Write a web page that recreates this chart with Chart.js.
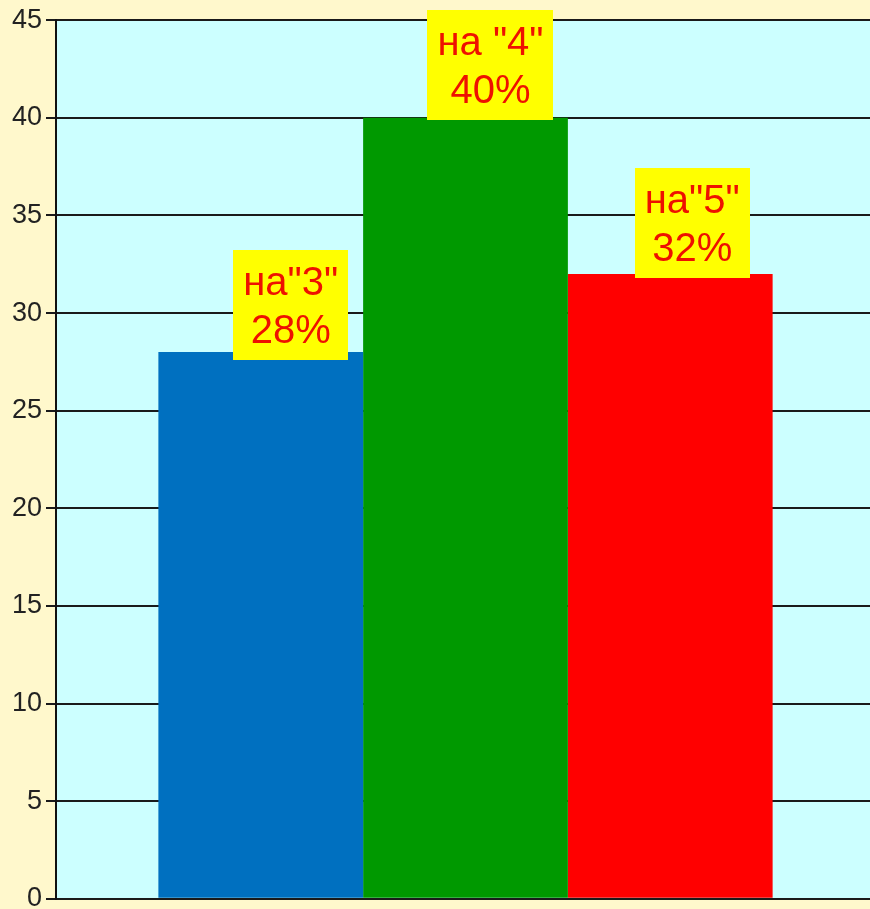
<!DOCTYPE html>
<html>
<head>
<meta charset="utf-8">
<script src="https://cdn.jsdelivr.net/npm/chart.js@4/dist/chart.umd.min.js"></script>
<style>
  html, body { margin: 0; padding: 0; overflow: hidden; background: #FFF8CC; }
  #wrap { position: absolute; left: 0; top: 0; width: 875px; height: 919px; }
</style>
</head>
<body>
<div id="wrap"><canvas id="c" width="875" height="919"></canvas></div>
<script>
// Grades: share of pupils per mark
const grades = ['на"3"', 'на "4"', 'на"5"'];
const percents = [28, 40, 32];
const barColors = ['#0070C0', '#009900', '#FF0000'];
const yTicks = [0, 5, 10, 15, 20, 25, 30, 35, 40, 45];

const FONT = "Arial, 'Liberation Sans', sans-serif";

// light cyan plot area
const plotBackground = {
  id: 'plotBackground',
  beforeDraw(chart) {
    const { ctx, chartArea: a } = chart;
    ctx.save();
    ctx.fillStyle = '#CCFFFF';
    ctx.fillRect(a.left, a.top, a.right - a.left, a.bottom - a.top);
    ctx.restore();
  }
};

// yellow value boxes sitting on top of each bar
const valueBoxes = {
  id: 'valueBoxes',
  afterDatasetsDraw(chart, args, opts) {
    const ctx = chart.ctx;
    ctx.save();
    ctx.font = opts.font;
    ctx.textAlign = 'center';
    ctx.textBaseline = 'alphabetic';
    chart.data.datasets.forEach((ds, i) => {
      const el = chart.getDatasetMeta(i).data[0];
      const lines = [grades[i], ds.data[0] + '%'];
      const w = Math.max(...lines.map(t => ctx.measureText(t).width)) + opts.padX * 2;
      const cx = el.x + opts.dx[i];
      const bottom = el.y + opts.dy[i];
      const top = bottom - opts.boxHeight;
      ctx.fillStyle = opts.fill;
      ctx.fillRect(Math.round(cx - w / 2), Math.round(top), Math.round(w), opts.boxHeight);
      ctx.fillStyle = opts.color;
      lines.forEach((t, k) => {
        ctx.fillText(t, cx, top + opts.firstBaseline + k * opts.lineHeight);
      });
    });
    ctx.restore();
  }
};

new Chart(document.getElementById('c'), {
  type: 'bar',
  data: {
    labels: [''],
    datasets: grades.map((g, i) => ({
      label: g,
      data: [percents[i]],
      backgroundColor: barColors[i],
      borderWidth: 0
    }))
  },
  options: {
    responsive: false,
    animation: false,
    events: [],
    layout: { padding: { top: 20, bottom: 0, left: 0, right: 0 } },
    datasets: { bar: { categoryPercentage: 0.75, barPercentage: 1.0 } },
    plugins: {
      legend: { display: false },
      tooltip: { enabled: false },
      valueBoxes: {
        font: '40px ' + FONT,
        color: '#EE1100',
        fill: '#FFFF00',
        padX: 10,
        boxHeight: 110,
        firstBaseline: 45,
        lineHeight: 48,
        dx: [30, 25, 22],
        dy: [8, 2, 4]
      }
    },
    scales: {
      x: { display: false },
      y: {
        min: 0,
        max: 45,
        afterFit(scale) { scale.width = 56; },
        afterBuildTicks(scale) { scale.ticks = yTicks.map(v => ({ value: v })); },
        ticks: {
          color: '#222222',
          padding: 4,
          font: { family: FONT, size: 27 }
        },
        grid: {
          color: '#1a1a1a',
          lineWidth: 2,
          tickLength: 10,
          drawTicks: true
        },
        border: { display: true, color: '#111111', width: 2 }
      }
    }
  },
  plugins: [plotBackground, valueBoxes]
});
</script>
</body>
</html>
